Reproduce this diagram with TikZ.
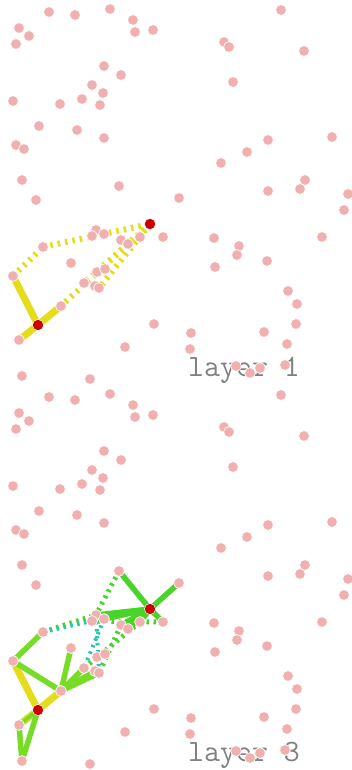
\documentclass[tikz,border=0pt]{standalone}
\definecolor{pinkc}{RGB}{241,176,176}
\definecolor{redc}{RGB}{204,0,0}
\definecolor{yelc}{RGB}{229,220,26}
\definecolor{grnc}{RGB}{72,212,40}
\definecolor{limc}{RGB}{118,220,38}
\definecolor{tealc}{RGB}{40,200,170}
\definecolor{textc}{RGB}{128,128,128}
\begin{document}
\begin{tikzpicture}[x=1pt,y=-1pt,
  pt/.style={fill=pinkc,draw=white,line width=0.7pt},
  hub/.style={fill=redc,draw=white,line width=0.5pt},
  yel/.style={draw=yelc,line width=7pt},
  yeld/.style={draw=yelc,line width=6pt,dash pattern=on 2.5pt off 5pt},
  grn/.style={draw=grnc,line width=5.5pt},
  lim/.style={draw=limc,line width=5.5pt},
  grnd/.style={draw=grnc,line width=5pt,dash pattern=on 2.5pt off 4.5pt},
  teald/.style={draw=tealc,line width=4pt,dash pattern=on 2.5pt off 4.5pt},
  lbl/.style={font=\ttfamily\fontsize{31}{31}\selectfont,text=textc,anchor=base west,inner sep=0pt}]
\fill[white] (0,0) rectangle (351,770);
\useasboundingbox (0,0) rectangle (351,770);
\foreach \x/\y [count=\i] in {49/12,75/15,110/9,133/20,135/32,153/30,281/10,19/28,29/36,16/44,
  224/42,229/47,304/51,104/66,121/75,92/85,103/93,233/82,13/101,60/104,
  82/99,100/105,39/126,77/130,104/138,332/137,268/140,247/152,16/145,24/149,
  221/163,22/180,119/186,305/180,300/189,268/191,348/194,36/200,179/198,344/210,
  214/238,239/246,237/255,215/267,267/261,322/237,288/291,297/304,296/324,191/333,
  190/349,264/332,287/344,236/366,260/368,250/373,285/365,163/237,43/247,96/230,
  92/236,104/234,121/240,128/244,140/237,71/263,13/276,97/272,105/269,84/283,
  95/286,99/288,61/306,19/340,154/324,125/347,22/376,90/379}
{
  \coordinate (t\i) at (\x,\y);
  \coordinate (b\i) at (\x,\y+385);
}
\coordinate (r1t) at (150,224);
\coordinate (r2t) at (38,325);
\coordinate (r1b) at (150,609);
\coordinate (r2b) at (38,710);
% labels
\node[lbl] (lab1) at (188,376) {layer 1};
\node[lbl] (lab3) at (188,761) {layer 3};
% top panel edges
\draw[yeld] (t67) -- (t59);
\draw[yeld] (t59) -- (r1t);
\draw[yeld] (r1t) -- (t73);
\draw[yeld] (r1t) -- (t70);
\draw[yeld] (r1t) -- (t72);
\draw[yel] (t67) -- (r2t);
\draw[yel] (r2t) -- (t73);
\draw[yel] (r2t) -- (t74);
% bottom panel edges
\draw[grnd] (b33) -- (b60);
\draw[grnd] (b59) -- (b60);
\draw[teald] (b59) -- (b61);
\draw[grnd] (b58) -- (b61);
\draw[grnd] (b65) -- (b70);
\draw[grnd] (b63) -- (b72);
\draw[teald] (b60) -- (b72);
\draw[teald] (b62) -- (b70);
\draw[yel] (b67) -- (r2b);
\draw[yel] (r2b) -- (b73);
\draw[yel] (r2b) -- (b74);
\draw[lim] (b59) -- (b67);
\draw[lim] (b67) -- (b73);
\draw[lim] (b66) -- (b73);
\draw[lim] (b73) -- (b70);
\draw[lim] (b73) -- (b71);
\draw[lim] (b73) -- (b72);
\draw[lim] (b74) -- (b77);
\draw[lim] (r2b) -- (b77);
\draw[lim,line width=4pt] (b74) -- (r2b);
\draw[grn] (r1b) -- (b33);
\draw[grn] (r1b) -- (b39);
\draw[grn] (r1b) -- (b58);
\draw[grn] (r1b) -- (b60);
\draw[grn] (r1b) -- (b62);
\draw[grn] (r1b) -- (b63);
\draw[grn] (r1b) -- (b64);
\draw[grn] (r1b) -- (b65);
% points
\foreach \i in {1,...,78} {
  \path[pt] (t\i) circle (5.4);
  \path[pt] (b\i) circle (5.4);
}
\path[hub] (r1t) circle (5.6);
\path[hub] (r2t) circle (5.6);
\path[hub] (r1b) circle (5.6);
\path[hub] (r2b) circle (5.6);
\end{tikzpicture}
\end{document}
